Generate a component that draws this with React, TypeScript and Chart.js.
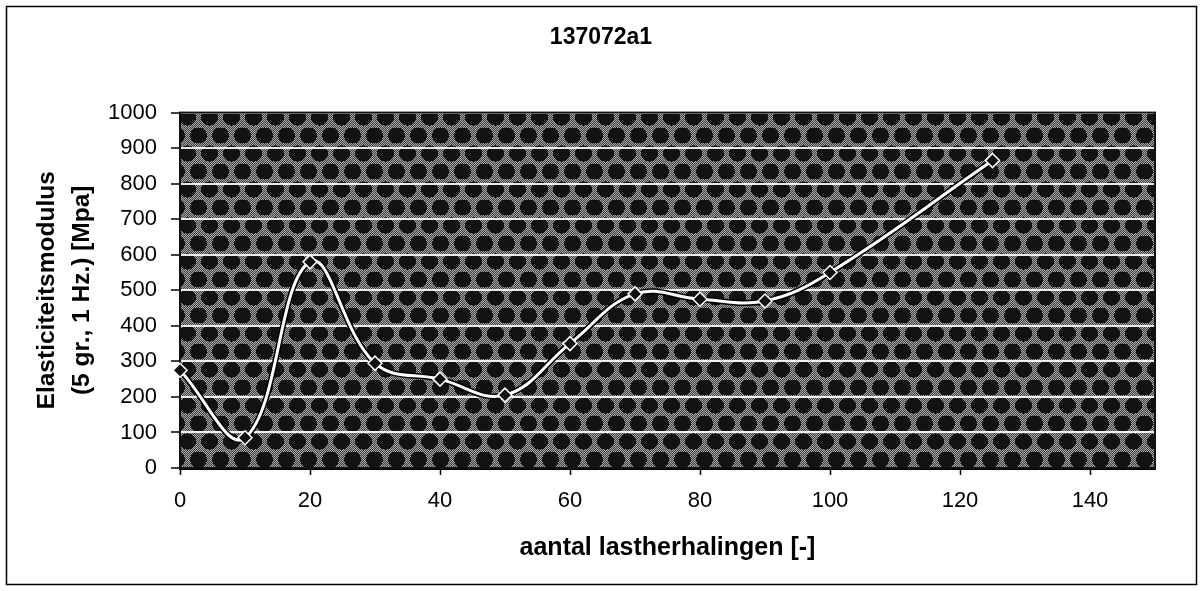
import React, { useEffect, useRef } from 'react';
import { Chart, registerables } from 'chart.js';

Chart.register(...registerables);

const chartTitle = '137072a1';
const xAxisTitle = 'aantal lastherhalingen [-]';
const yAxisTitle = ['Elasticiteitsmodulus', '(5 gr., 1 Hz.) [Mpa]'];

const loadRepetitions = [0, 10, 20, 30, 40, 50, 60, 70, 80, 90, 100, 125];
const modulusValues = [275, 85, 580, 295, 250, 205, 350, 490, 475, 470, 550, 865];

const xTickValues = [0, 20, 40, 60, 80, 100, 120, 140];
const yTickValues = [0, 100, 200, 300, 400, 500, 600, 700, 800, 900, 1000];

const FONT = 'Arial, "Liberation Sans", Helvetica, sans-serif';

function makeTexture(): CanvasPattern | string {
  const W = 44;
  const H = 36;
  const tile = document.createElement('canvas');
  tile.width = W;
  tile.height = H;
  const tctx = tile.getContext('2d');
  if (!tctx) return '#4a4a4a';
  const img = tctx.createImageData(W, H);
  const centres = [
    [11, 9], [33, 9],
    [0, 27], [22, 27], [44, 27],
    [11, 45], [33, 45], [11, -9], [33, -9],
    [0, -9 + 0], [44, -9 + 0],
  ];
  for (let y = 0; y < H; y++) {
    for (let x = 0; x < W; x++) {
      let dark = false;
      for (const [cx, cy] of centres) {
        const dx = (x - cx) / 8.5;
        const dy = (y - cy) / 8;
        if (dx * dx + dy * dy <= 1) {
          dark = true;
          break;
        }
      }
      const v = dark ? 18 : (x + y) % 2 === 0 ? 170 : 60;
      const k = (y * W + x) * 4;
      img.data[k] = v;
      img.data[k + 1] = v;
      img.data[k + 2] = v;
      img.data[k + 3] = 255;
    }
  }
  tctx.putImageData(img, 0, 0);
  const pattern = tctx.createPattern(tile, 'repeat');
  return pattern || '#4a4a4a';
}

const framePlugin = {
  id: 'framePlugin',
  beforeDraw(chart: any) {
    const { ctx, chartArea: a } = chart;
    ctx.save();
    ctx.fillStyle = '#ffffff';
    ctx.fillRect(0, 0, chart.width, chart.height);
    ctx.fillStyle = makeTexture();
    ctx.fillRect(a.left, a.top, a.right - a.left, a.bottom - a.top);
    ctx.restore();
  },
  beforeDatasetsDraw(chart: any) {
    const { ctx, chartArea: a } = chart;
    ctx.save();
    ctx.strokeStyle = '#111';
    ctx.lineWidth = 2;
    ctx.strokeRect(a.left, a.top, a.right - a.left, a.bottom - a.top);
    ctx.restore();
  },
  afterDraw(chart: any) {
    const { ctx } = chart;
    ctx.save();
    ctx.strokeStyle = '#000';
    ctx.lineWidth = 1.5;
    ctx.strokeRect(6.5, 6.5, 1190, 578);
    ctx.restore();
  },
};

export default function App() {
  const canvasRef = useRef<HTMLCanvasElement | null>(null);

  useEffect(() => {
    if (!canvasRef.current) return;
    const points = loadRepetitions.map((x, i) => ({ x, y: modulusValues[i] }));
    const chart = new Chart(canvasRef.current, {
      type: 'line',
      data: {
        datasets: [
          {
            data: points,
            borderColor: '#ffffff',
            borderWidth: 3,
            tension: 0.4,
            pointStyle: 'rectRot',
            pointRadius: 7,
            pointBackgroundColor: '#111111',
            pointBorderColor: '#ffffff',
            pointBorderWidth: 1.5,
            clip: false,
            order: 0,
          },
          {
            data: points,
            borderColor: '#000000',
            borderWidth: 6,
            tension: 0.4,
            pointRadius: 0,
            clip: false,
            order: 1,
          },
        ],
      },
      options: {
        animation: false,
        responsive: true,
        maintainAspectRatio: false,
        layout: { padding: 0 },
        plugins: {
          legend: { display: false },
          tooltip: { enabled: false },
          title: {
            display: true,
            text: chartTitle,
            color: '#000',
            font: { family: FONT, size: 23, weight: 'bold', lineHeight: 1.2 },
            padding: { top: 24, bottom: 61 },
          },
        },
        scales: {
          x: {
            type: 'linear',
            min: 0,
            max: 150,
            afterBuildTicks: (axis: any) => {
              axis.ticks = xTickValues.map((v) => ({ value: v }));
            },
            afterFit: (scale: any) => {
              scale.height = 123;
            },
            ticks: {
              color: '#000',
              font: { family: FONT, size: 22 },
              padding: 13,
              maxRotation: 0,
              callback: (v: any) => String(v),
            },
            grid: {
              drawOnChartArea: false,
              drawTicks: true,
              tickLength: 7,
              tickColor: '#000',
              tickWidth: 1.5,
            },
            border: { display: true, color: '#000', width: 3 },
            title: {
              display: true,
              text: xAxisTitle,
              color: '#000',
              font: { family: FONT, size: 25, weight: 'bold', lineHeight: 1.2 },
              padding: { top: 0, bottom: 28 },
            },
          },
          y: {
            type: 'linear',
            position: 'left',
            min: 0,
            max: 1000,
            afterBuildTicks: (axis: any) => {
              axis.ticks = yTickValues.map((v) => ({ value: v }));
            },
            afterFit: (scale: any) => {
              scale.width = 180;
            },
            ticks: {
              color: '#000',
              font: { family: FONT, size: 22 },
              padding: 14,
              callback: (v: any) => String(v),
            },
            grid: {
              color: 'rgba(255,255,255,0.9)',
              lineWidth: 2,
              drawTicks: true,
              tickLength: 9,
              tickColor: '#000',
              tickWidth: 1.5,
            },
            border: { display: true, color: '#000', width: 2 },
            title: {
              display: true,
              text: yAxisTitle,
              color: '#000',
              font: { family: FONT, size: 24.5, weight: 'bold', lineHeight: 1.43 },
              padding: { top: 29.5, bottom: 0 },
            },
          },
          rightSpace: {
            type: 'linear',
            position: 'right',
            display: true,
            min: 0,
            max: 1000,
            afterFit: (scale: any) => {
              scale.width = 47;
            },
            ticks: { display: false },
            grid: { display: false, drawTicks: false },
            border: { display: false },
            title: { display: false },
          },
        },
      },
      plugins: [framePlugin],
    } as any);
    return () => chart.destroy();
  }, []);

  return (
    <div style={{ position: 'absolute', left: 0, top: 0, width: 1202, height: 591, background: '#fff' }}>
      <canvas ref={canvasRef} />
    </div>
  );
}
